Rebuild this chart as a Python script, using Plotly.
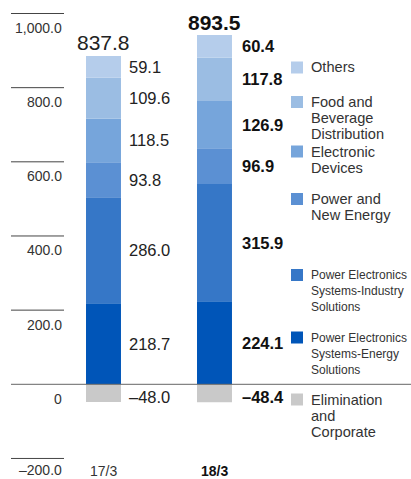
import plotly.graph_objects as go

# ---- data (billion yen) ----
periods = ["17/3", "18/3"]
pe_energy = [218.7, 224.1]
pe_industry = [286.0, 315.9]
power_new_energy = [93.8, 96.9]
electronic_devices = [118.5, 126.9]
food_beverage = [109.6, 117.8]
others = [59.1, 60.4]
elimination = [-48.0, -48.4]
totals = [837.8, 893.5]

y_ticks = [1000, 800, 600, 400, 200, 0, -200]
y_tick_labels = ["1,000.0", "800.0", "600.0", "400.0", "200.0", "0", "–200.0"]

segment_names = [
    "Power Electronics<br>Systems-Energy<br>Solutions",
    "Power Electronics<br>Systems-Industry<br>Solutions",
    "Power and<br>New Energy",
    "Electronic<br>Devices",
    "Food and<br>Beverage<br>Distribution",
    "Others",
    "Elimination<br>and<br>Corporate",
]
segment_values = [pe_energy, pe_industry, power_new_energy, electronic_devices,
                  food_beverage, others, elimination]
segment_colors = ["#0055b8", "#3677c7", "#5b90d3", "#76a5db", "#9bbde3",
                  "#b5cdeb", "#c9c9c9"]

# ---- layout constants ----
W, H = 411, 479
FONT = "Liberation Sans, Arial, Helvetica, sans-serif"
bar_width = 0.315
x_range = [-0.9324, 2.7703]
y_range = [-255.4, 1036.4]

fig = go.Figure()
for name, vals, col in zip(segment_names, segment_values, segment_colors):
    fig.add_trace(go.Bar(
        x=periods, y=vals, name=name.replace("<br>", " "),
        marker=dict(color=col, line=dict(width=0)),
        width=bar_width, hoverinfo="skip",
    ))

annotations = []
shapes = []


def fmt(v):
    s = f"{abs(v):.1f}"
    return ("–" + s) if v < 0 else s


# value labels to the right of each segment
label_shift = [23.5, 25.5]
for i, p in enumerate(periods):
    pos_base = 0.0
    neg_base = 0.0
    bold = i == 1
    for vals in segment_values:
        v = vals[i]
        if v >= 0:
            center = pos_base + v / 2
            pos_base += v
            ys = 0
        else:
            center = neg_base + v / 2
            neg_base += v
            ys = -4
        txt = fmt(v)
        annotations.append(dict(
            x=p, y=center, xref="x", yref="y", text=f"<b>{txt}</b>" if bold else txt,
            showarrow=False, xanchor="left", yanchor="middle",
            xshift=label_shift[i], yshift=ys,
            font=dict(family=FONT, size=16.5, color="#111" if bold else "#222"),
        ))
    # total above the stack
    annotations.append(dict(
        x=p, y=pos_base, xref="x", yref="y",
        text=f"<b>{totals[i]:.1f}</b>" if bold else f"{totals[i]:.1f}",
        showarrow=False, xanchor="center", yanchor="middle", yshift=13,
        font=dict(family=FONT, size=21, color="#111" if bold else "#222"),
    ))
    # period label at the bottom
    annotations.append(dict(
        x=p, y=1 - 471 / H, xref="x", yref="paper",
        text=f"<b>{p}</b>" if bold else p,
        showarrow=False, xanchor="center", yanchor="middle",
        font=dict(family=FONT, size=14, color="#111" if bold else "#333"),
    ))

# y-axis: short rules with labels beneath
for v, lab in zip(y_ticks, y_tick_labels):
    annotations.append(dict(
        x=64 / W, y=v, xref="paper", yref="y", text=lab, showarrow=False,
        xanchor="right", yanchor="middle", yshift=-12 if v < 0 else -14.5,
        font=dict(family=FONT, size=14, color="#333"),
    ))
    if v != 0:
        shapes.append(dict(
            type="line", xref="paper", yref="y", x0=11 / W, x1=64 / W, y0=v, y1=v,
            line=dict(color="#444", width=1),
        ))

# baseline across the chart
shapes.append(dict(
    type="line", xref="paper", yref="y", x0=11 / W, x1=1, y0=0, y1=0,
    line=dict(color="#666", width=1), layer="above",
))

# legend: swatch + stacked text lines
legend_y = [337.5, 275, 199, 151.5, 102, 67.5, 399.5]
legend_size = [12, 12, 14.6, 14.6, 14.6, 14.6, 14.6]
sw_x0, sw_x1, txt_x = 291, 303, 309
line_step = 16
for name, col, yc, fs in zip(segment_names, segment_colors, legend_y, legend_size):
    shapes.append(dict(
        type="rect", xref="paper", yref="paper",
        x0=sw_x0 / W, x1=sw_x1 / W, y0=1 - (yc - 6) / H, y1=1 - (yc + 6) / H,
        fillcolor=col, line=dict(width=0),
    ))
    for k, line in enumerate(name.split("<br>")):
        annotations.append(dict(
            x=txt_x / W, y=1 - (yc + k * line_step) / H, xref="paper", yref="paper",
            text=line, showarrow=False, xanchor="left", yanchor="middle",
            font=dict(family=FONT, size=fs, color="#333"),
        ))

fig.update_layout(
    width=W, height=H,
    margin=dict(l=0, r=0, t=0, b=0),
    barmode="relative",
    showlegend=False,
    paper_bgcolor="white", plot_bgcolor="white",
    xaxis=dict(type="category", range=x_range, visible=False, fixedrange=True),
    yaxis=dict(range=y_range, visible=False, fixedrange=True),
    annotations=annotations,
    shapes=shapes,
)

fig.write_html("out.html", config={"displayModeBar": False})
